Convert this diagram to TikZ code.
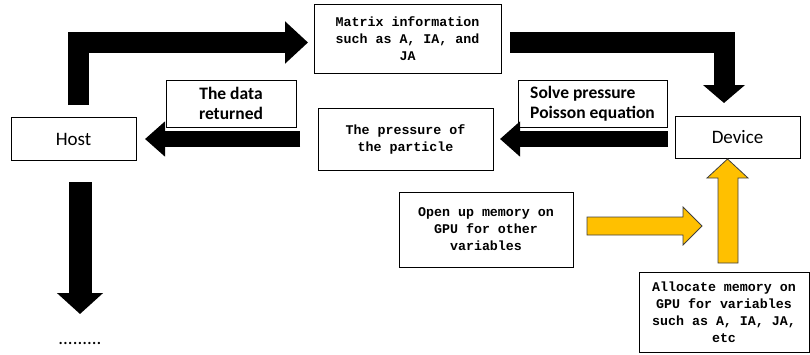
\documentclass[tikz,border=0pt]{standalone}
\usepackage{fontspec}
\setmainfont{Carlito}
\newfontfamily\serifmono{Liberation Mono}
\usetikzlibrary{arrows.meta}
\definecolor{gold}{HTML}{FFC000}
\begin{document}
\begin{tikzpicture}[x=1pt,y=-1pt,
  box/.style={draw, line width=0.8pt, inner sep=0pt, align=center},
  monotext/.style={font=\serifmono\bfseries\fontsize{13.3}{17}\selectfont},
  sanstext/.style={font=\fontsize{19}{22}\selectfont},
  boldtext/.style={font=\bfseries\fontsize{17.5}{20}\selectfont},
  bigarrow/.style={line width=#1, line join=miter},
  goldarrow/.style={draw=black!75, line width=0.8pt, fill=gold, line join=miter}]
  \useasboundingbox (0,0) rectangle (810,354);
  % boxes
  \node[box, sanstext, minimum width=125, minimum height=43] (host) at (73.5,139) {Host};
  \node[box, monotext, minimum width=187, minimum height=69] (matrix) at (407.5,39) {Matrix information\\such as A, IA, and\\JA};
  \node[box, boldtext, minimum width=130, minimum height=47] (returned) at (231,103.5) {The data\\returned};
  \node[box, monotext, minimum width=175, minimum height=62] (pressure) at (405.5,139) {The pressure of\\the particle};
  \node[box, boldtext, align=left, minimum width=149, minimum height=47] (solve) at (592.5,103.5) {Solve pressure\\Poisson equation};
  \node[box, sanstext, minimum width=125, minimum height=42] (device) at (737.5,137) {Device};
  \node[box, monotext, minimum width=174, minimum height=75] (openmem) at (486,229.5) {Open up memory on\\GPU for other\\variables};
  \node[box, monotext, minimum width=170, minimum height=80] (alloc) at (724,312.5) {Allocate memory on\\GPU for variables\\such as A, IA, JA,\\etc};
  \node[sanstext, inner sep=0pt] (dots) at (80,343) {.........};
  % black arrows
  \coordinate (hostup) at (78.5,105);
  \coordinate (matrixin) at (308,42.5);
  \coordinate (matrixout) at (510,42.5);
  \coordinate (devicein) at (724,103);
  \coordinate (deviceout) at (668,139);
  \coordinate (pressurein) at (500,139);
  \coordinate (pressureout) at (300,139);
  \coordinate (hostin) at (145,139);
  \coordinate (hostdown) at (80,182);
  \coordinate (dotsin) at (80,314);
  \draw[bigarrow=21pt, -{Triangle[width=41pt,length=23pt]}] (hostup) |- (matrixin);
  \draw[bigarrow=21pt, -{Triangle[width=41pt,length=18pt]}] (matrixout) -| (devicein);
  \draw[bigarrow=16pt, -{Triangle[width=34pt,length=20pt]}] (deviceout) -- (pressurein);
  \draw[bigarrow=16pt, -{Triangle[width=34pt,length=20pt]}] (pressureout) -- (hostin);
  \draw[bigarrow=23pt, -{Triangle[width=45pt,length=21pt]}] (hostdown) -- (dotsin);
  % yellow arrows
  \draw[goldarrow] (587,217) -- (683,217) -- (683,207) -- (702,226) -- (683,245) -- (683,235) -- (587,235) -- cycle;
  \draw[goldarrow] (718,263) -- (718,178) -- (707,178) -- (727.5,159) -- (748,178) -- (738,178) -- (738,263) -- cycle;
\end{tikzpicture}
\end{document}
